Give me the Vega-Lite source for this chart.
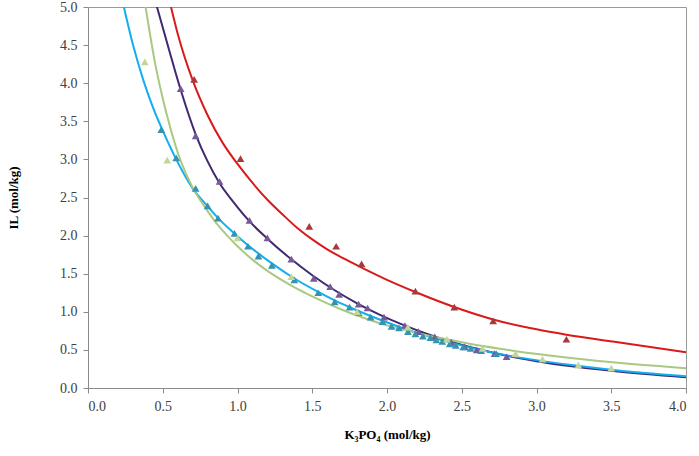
{
  "$schema": "https://vega.github.io/schema/vega-lite/v6.json",
  "width": 598,
  "height": 381,
  "autosize": {"type": "none"},
  "padding": {"left": 88, "top": 7, "right": 13, "bottom": 68},
  "background": "white",
  "config": {
    "view": {"stroke": "#9a9a9a", "strokeWidth": 1},
    "axis": {
      "labelFont": "Liberation Serif", "labelFontSize": 14, "labelColor": "#404040",
      "titleFont": "Liberation Serif", "titleFontSize": 13, "titleFontWeight": "bold", "titleColor": "#000000",
      "domainColor": "#8a8a8a", "tickColor": "#8a8a8a", "tickSize": 5, "grid": false, "labelOverlap": false
    }
  },
  "datasets": {
    "fits": [
      {"s": "red", "x": 0.555, "y": 5.0}, {"s": "red", "x": 0.6, "y": 4.65}, {"s": "red", "x": 0.7, "y": 4.04}, {"s": "red", "x": 0.8, "y": 3.58}, {"s": "red", "x": 0.9, "y": 3.22}, {"s": "red", "x": 1.0, "y": 2.94}, {"s": "red", "x": 1.08, "y": 2.74}, {"s": "red", "x": 1.2, "y": 2.47}, {"s": "red", "x": 1.3, "y": 2.28}, {"s": "red", "x": 1.4, "y": 2.1}, {"s": "red", "x": 1.5, "y": 1.95}, {"s": "red", "x": 1.6, "y": 1.82}, {"s": "red", "x": 1.72, "y": 1.69}, {"s": "red", "x": 1.84, "y": 1.57}, {"s": "red", "x": 2.0, "y": 1.42}, {"s": "red", "x": 2.19, "y": 1.26}, {"s": "red", "x": 2.44, "y": 1.07}, {"s": "red", "x": 2.71, "y": 0.9}, {"s": "red", "x": 3.0, "y": 0.77}, {"s": "red", "x": 3.2, "y": 0.7}, {"s": "red", "x": 3.51, "y": 0.61}, {"s": "red", "x": 4.0, "y": 0.47},
      {"s": "purple", "x": 0.4615, "y": 5.0}, {"s": "purple", "x": 0.542, "y": 4.44}, {"s": "purple", "x": 0.622, "y": 3.9}, {"s": "purple", "x": 0.722, "y": 3.32}, {"s": "purple", "x": 0.796, "y": 2.99}, {"s": "purple", "x": 0.876, "y": 2.7}, {"s": "purple", "x": 0.977, "y": 2.43}, {"s": "purple", "x": 1.084, "y": 2.18}, {"s": "purple", "x": 1.2, "y": 1.96}, {"s": "purple", "x": 1.35, "y": 1.705}, {"s": "purple", "x": 1.5, "y": 1.48}, {"s": "purple", "x": 1.65, "y": 1.283}, {"s": "purple", "x": 1.8, "y": 1.112}, {"s": "purple", "x": 1.95, "y": 0.963}, {"s": "purple", "x": 2.1, "y": 0.834}, {"s": "purple", "x": 2.25, "y": 0.722}, {"s": "purple", "x": 2.4, "y": 0.624}, {"s": "purple", "x": 2.6, "y": 0.514}, {"s": "purple", "x": 2.8, "y": 0.424}, {"s": "purple", "x": 3.0, "y": 0.352}, {"s": "purple", "x": 3.25, "y": 0.281}, {"s": "purple", "x": 3.5, "y": 0.225}, {"s": "purple", "x": 4.0, "y": 0.14},
      {"s": "cyan", "x": 0.24, "y": 5.0}, {"s": "cyan", "x": 0.3, "y": 4.51}, {"s": "cyan", "x": 0.37, "y": 4.04}, {"s": "cyan", "x": 0.435, "y": 3.68}, {"s": "cyan", "x": 0.495, "y": 3.4}, {"s": "cyan", "x": 0.58, "y": 3.04}, {"s": "cyan", "x": 0.7, "y": 2.62}, {"s": "cyan", "x": 0.8, "y": 2.385}, {"s": "cyan", "x": 0.87, "y": 2.23}, {"s": "cyan", "x": 0.97, "y": 2.045}, {"s": "cyan", "x": 1.06, "y": 1.89}, {"s": "cyan", "x": 1.15, "y": 1.75}, {"s": "cyan", "x": 1.23, "y": 1.635}, {"s": "cyan", "x": 1.37, "y": 1.45}, {"s": "cyan", "x": 1.54, "y": 1.26}, {"s": "cyan", "x": 1.67, "y": 1.13}, {"s": "cyan", "x": 1.75, "y": 1.06}, {"s": "cyan", "x": 1.89, "y": 0.945}, {"s": "cyan", "x": 2.07, "y": 0.81}, {"s": "cyan", "x": 2.22, "y": 0.71}, {"s": "cyan", "x": 2.37, "y": 0.625}, {"s": "cyan", "x": 2.6, "y": 0.51}, {"s": "cyan", "x": 2.84, "y": 0.415}, {"s": "cyan", "x": 3.22, "y": 0.305}, {"s": "cyan", "x": 3.5, "y": 0.24}, {"s": "cyan", "x": 4.0, "y": 0.155},
      {"s": "green", "x": 0.385, "y": 5.0}, {"s": "green", "x": 0.42, "y": 4.58}, {"s": "green", "x": 0.45, "y": 4.25}, {"s": "green", "x": 0.5, "y": 3.8}, {"s": "green", "x": 0.55, "y": 3.42}, {"s": "green", "x": 0.62, "y": 2.98}, {"s": "green", "x": 0.7, "y": 2.63}, {"s": "green", "x": 0.78, "y": 2.38}, {"s": "green", "x": 0.86, "y": 2.16}, {"s": "green", "x": 0.95, "y": 1.96}, {"s": "green", "x": 1.0, "y": 1.86}, {"s": "green", "x": 1.1, "y": 1.685}, {"s": "green", "x": 1.2, "y": 1.537}, {"s": "green", "x": 1.3, "y": 1.412}, {"s": "green", "x": 1.4, "y": 1.3}, {"s": "green", "x": 1.5, "y": 1.2025}, {"s": "green", "x": 1.6, "y": 1.111}, {"s": "green", "x": 1.7, "y": 1.027}, {"s": "green", "x": 1.8, "y": 0.951}, {"s": "green", "x": 1.9, "y": 0.883}, {"s": "green", "x": 2.0, "y": 0.822}, {"s": "green", "x": 2.1, "y": 0.769}, {"s": "green", "x": 2.2, "y": 0.722}, {"s": "green", "x": 2.4, "y": 0.64}, {"s": "green", "x": 2.64, "y": 0.55}, {"s": "green", "x": 2.84, "y": 0.49}, {"s": "green", "x": 3.2, "y": 0.4}, {"s": "green", "x": 3.6, "y": 0.32}, {"s": "green", "x": 4.0, "y": 0.26}
    ],
    "points": [
      {"s": "red", "x": 0.71, "y": 4.05}, {"s": "red", "x": 1.02, "y": 3.01}, {"s": "red", "x": 1.48, "y": 2.12}, {"s": "red", "x": 1.66, "y": 1.86}, {"s": "red", "x": 1.83, "y": 1.63}, {"s": "red", "x": 2.19, "y": 1.27}, {"s": "red", "x": 2.45, "y": 1.06}, {"s": "red", "x": 2.71, "y": 0.88}, {"s": "red", "x": 3.2, "y": 0.64},
      {"s": "purple", "x": 0.62, "y": 3.93}, {"s": "purple", "x": 0.72, "y": 3.31}, {"s": "purple", "x": 0.88, "y": 2.71}, {"s": "purple", "x": 1.08, "y": 2.2}, {"s": "purple", "x": 1.2, "y": 1.97}, {"s": "purple", "x": 1.36, "y": 1.69}, {"s": "purple", "x": 1.51, "y": 1.44}, {"s": "purple", "x": 1.62, "y": 1.33}, {"s": "purple", "x": 1.68, "y": 1.23}, {"s": "purple", "x": 1.81, "y": 1.1}, {"s": "purple", "x": 1.87, "y": 1.05}, {"s": "purple", "x": 1.98, "y": 0.93}, {"s": "purple", "x": 2.12, "y": 0.82}, {"s": "purple", "x": 2.21, "y": 0.74}, {"s": "purple", "x": 2.32, "y": 0.67}, {"s": "purple", "x": 2.43, "y": 0.6}, {"s": "purple", "x": 2.52, "y": 0.54}, {"s": "purple", "x": 2.6, "y": 0.5}, {"s": "purple", "x": 2.72, "y": 0.45}, {"s": "purple", "x": 2.8, "y": 0.41},
      {"s": "cyan", "x": 0.49, "y": 3.39}, {"s": "cyan", "x": 0.59, "y": 3.02}, {"s": "cyan", "x": 0.72, "y": 2.62}, {"s": "cyan", "x": 0.8, "y": 2.39}, {"s": "cyan", "x": 0.87, "y": 2.23}, {"s": "cyan", "x": 0.98, "y": 2.03}, {"s": "cyan", "x": 1.07, "y": 1.86}, {"s": "cyan", "x": 1.14, "y": 1.73}, {"s": "cyan", "x": 1.23, "y": 1.61}, {"s": "cyan", "x": 1.38, "y": 1.42}, {"s": "cyan", "x": 1.54, "y": 1.25}, {"s": "cyan", "x": 1.65, "y": 1.13}, {"s": "cyan", "x": 1.75, "y": 1.06}, {"s": "cyan", "x": 1.81, "y": 0.99}, {"s": "cyan", "x": 1.89, "y": 0.93}, {"s": "cyan", "x": 1.97, "y": 0.87}, {"s": "cyan", "x": 2.03, "y": 0.81}, {"s": "cyan", "x": 2.08, "y": 0.79}, {"s": "cyan", "x": 2.14, "y": 0.74}, {"s": "cyan", "x": 2.19, "y": 0.71}, {"s": "cyan", "x": 2.24, "y": 0.68}, {"s": "cyan", "x": 2.29, "y": 0.66}, {"s": "cyan", "x": 2.33, "y": 0.63}, {"s": "cyan", "x": 2.37, "y": 0.61}, {"s": "cyan", "x": 2.42, "y": 0.58}, {"s": "cyan", "x": 2.46, "y": 0.56}, {"s": "cyan", "x": 2.51, "y": 0.54}, {"s": "cyan", "x": 2.56, "y": 0.52}, {"s": "cyan", "x": 2.63, "y": 0.49}, {"s": "cyan", "x": 2.73, "y": 0.45},
      {"s": "green", "x": 0.38, "y": 4.28}, {"s": "green", "x": 0.53, "y": 2.99}, {"s": "green", "x": 1.0, "y": 1.97}, {"s": "green", "x": 1.36, "y": 1.46}, {"s": "green", "x": 1.8, "y": 1.0}, {"s": "green", "x": 2.14, "y": 0.8}, {"s": "green", "x": 2.4, "y": 0.64}, {"s": "green", "x": 2.64, "y": 0.52}, {"s": "green", "x": 2.86, "y": 0.45}, {"s": "green", "x": 3.04, "y": 0.38}, {"s": "green", "x": 3.28, "y": 0.3}, {"s": "green", "x": 3.5, "y": 0.26}
    ]
  },
  "encoding": {
    "x": {"field": "x", "type": "quantitative", "scale": {"domain": [0, 4], "nice": false, "zero": false},
      "axis": {"values": [0, 0.5, 1, 1.5, 2, 2.5, 3, 3.5, 4], "format": ".1f", "title": "K₃PO₄ (mol/kg)", "titleY": 40, "labelPadding": 6}},
    "y": {"field": "y", "type": "quantitative", "scale": {"domain": [0, 5], "nice": false, "zero": false},
      "axis": {"values": [0, 0.5, 1, 1.5, 2, 2.5, 3, 3.5, 4, 4.5, 5], "format": ".1f", "title": "IL (mol/kg)", "titleX": -68, "labelPadding": 6}}
  },
  "layer": [
    {
      "data": {"name": "fits"},
      "mark": {"type": "line", "strokeWidth": 2, "interpolate": "monotone", "clip": true},
      "encoding": {
        "color": {"field": "s", "type": "nominal", "legend": null,
          "scale": {"domain": ["red", "purple", "cyan", "green"], "range": ["#d91a1a", "#40296e", "#12aef0", "#a9c981"]}},
        "detail": {"field": "s"}
      }
    },
    {
      "data": {"name": "points"},
      "mark": {"type": "point", "shape": "triangle-up", "filled": true, "opacity": 1, "size": 60},
      "encoding": {
        "color": {"field": "s", "type": "nominal", "legend": null,
          "scale": {"domain": ["red", "purple", "cyan", "green"], "range": ["#a8383a", "#76589b", "#3592b0", "#c2d699"]}}
      }
    }
  ],
  "resolve": {"scale": {"color": "independent"}}
}
